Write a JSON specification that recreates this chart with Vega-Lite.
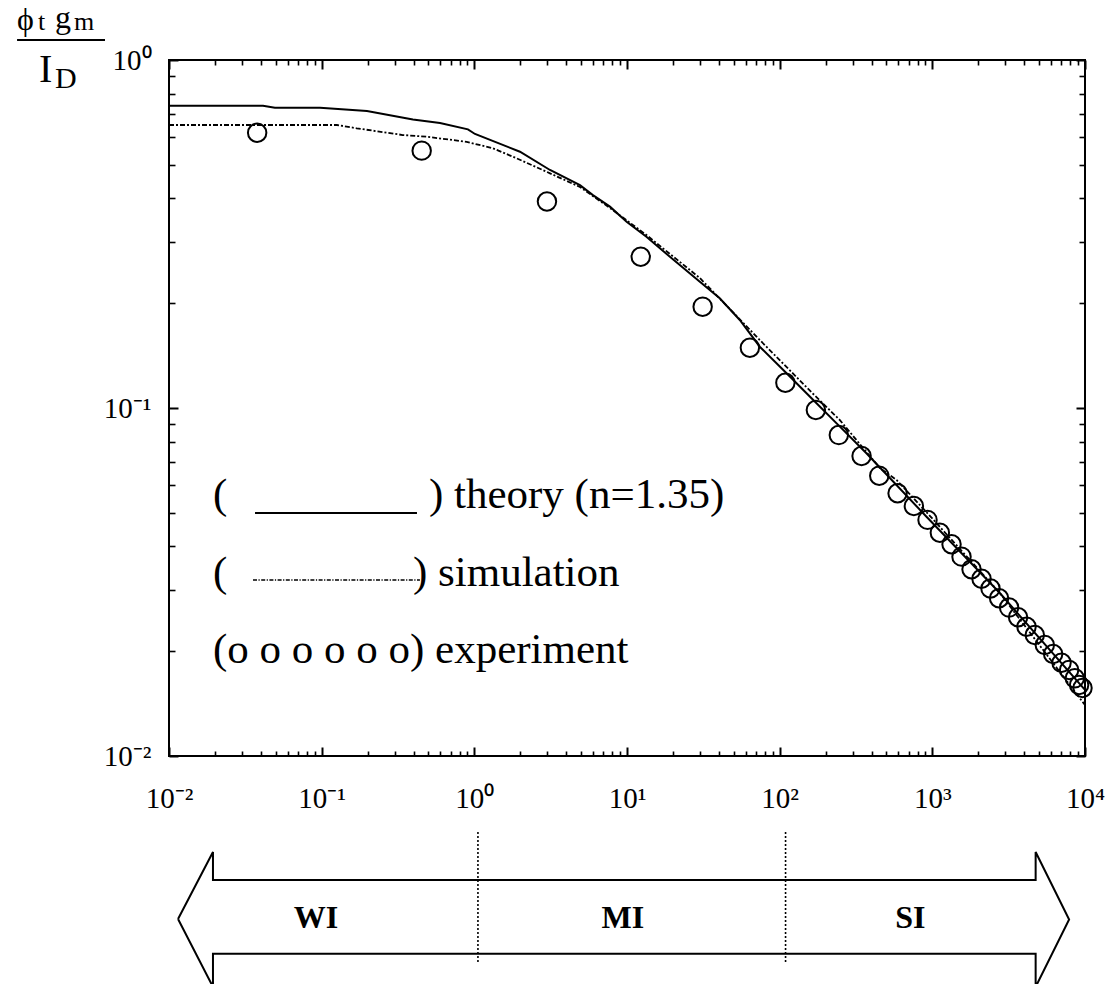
{
  "$schema": "https://vega.github.io/schema/vega-lite/v6.json",
  "width": 916,
  "height": 696,
  "autosize": {"type": "none"},
  "padding": {"left": 169, "top": 60, "right": 30, "bottom": 228},
  "background": "white",
  "config": {
    "view": {"stroke": "black", "strokeWidth": 2},
    "axis": {"grid": false, "domain": false, "tickColor": "black", "labelColor": "black", "labelFont": "Liberation Serif", "labelFontSize": 28, "tickWidth": 2},
    "text": {"font": "Liberation Serif", "color": "black"}
  },
  "datasets": {
    "theory": [
      {"x": 0.01, "y": 0.739}, {"x": 0.0413, "y": 0.739}, {"x": 0.0494, "y": 0.729}, {"x": 0.0975, "y": 0.729},
      {"x": 0.198, "y": 0.714}, {"x": 0.396, "y": 0.675}, {"x": 0.596, "y": 0.659}, {"x": 0.908, "y": 0.632},
      {"x": 1.01, "y": 0.613}, {"x": 1.99, "y": 0.545}, {"x": 3.13, "y": 0.483}, {"x": 4.92, "y": 0.437},
      {"x": 5.98, "y": 0.409}, {"x": 7.73, "y": 0.379}, {"x": 9.94, "y": 0.343}, {"x": 13.4, "y": 0.3106},
      {"x": 19.1, "y": 0.272}, {"x": 30.0, "y": 0.2306}, {"x": 40.5, "y": 0.2066}, {"x": 54.8, "y": 0.179},
      {"x": 74.1, "y": 0.150}, {"x": 111, "y": 0.1258}, {"x": 166, "y": 0.1054}, {"x": 248, "y": 0.0884},
      {"x": 370, "y": 0.0741}, {"x": 916, "y": 0.0487}, {"x": 2767, "y": 0.0294}, {"x": 10000, "y": 0.01548}
    ],
    "simulation": [
      {"x": 0.01, "y": 0.6505}, {"x": 0.126, "y": 0.6505}, {"x": 0.1695, "y": 0.6364}, {"x": 0.34, "y": 0.6087},
      {"x": 0.4876, "y": 0.602}, {"x": 0.891, "y": 0.582}, {"x": 1.324, "y": 0.5576}, {"x": 1.893, "y": 0.5218},
      {"x": 3.13, "y": 0.4725}, {"x": 4.92, "y": 0.4316}, {"x": 7.73, "y": 0.3756}, {"x": 13.4, "y": 0.3142},
      {"x": 30.0, "y": 0.2363}, {"x": 74.1, "y": 0.1568}, {"x": 166, "y": 0.1097}, {"x": 248, "y": 0.0923},
      {"x": 453, "y": 0.0672}, {"x": 583, "y": 0.0621}, {"x": 916, "y": 0.0502}, {"x": 2767, "y": 0.0294},
      {"x": 10000, "y": 0.01401}
    ],
    "experiment": [
      {"x": 0.0378, "y": 0.618}, {"x": 0.452, "y": 0.549}, {"x": 2.99, "y": 0.392}, {"x": 12.3, "y": 0.272},
      {"x": 31.3, "y": 0.1955}, {"x": 63.8, "y": 0.149}, {"x": 109, "y": 0.1182}, {"x": 172.6, "y": 0.0987},
      {"x": 244, "y": 0.0836}, {"x": 344, "y": 0.0728}, {"x": 449, "y": 0.0639}, {"x": 592, "y": 0.0569},
      {"x": 757, "y": 0.0523}, {"x": 930, "y": 0.0477}, {"x": 1120, "y": 0.0438}, {"x": 1336, "y": 0.0406},
      {"x": 1553, "y": 0.0374}, {"x": 1806, "y": 0.0344}, {"x": 2100, "y": 0.0323}, {"x": 2404, "y": 0.0303},
      {"x": 2737, "y": 0.0284}, {"x": 3183, "y": 0.0267}, {"x": 3645, "y": 0.02504}, {"x": 4140, "y": 0.02352},
      {"x": 4690, "y": 0.02227}, {"x": 5455, "y": 0.02084}, {"x": 6185, "y": 0.01964}, {"x": 7020, "y": 0.01854},
      {"x": 7870, "y": 0.01767}, {"x": 8575, "y": 0.01672}, {"x": 9150, "y": 0.016}, {"x": 9630, "y": 0.01568}
    ],
    "theorySample": [{"x": 0.0366, "y": 0.04993}, {"x": 0.421, "y": 0.04993}],
    "simSample": [{"x": 0.0355, "y": 0.03204}, {"x": 0.4403, "y": 0.03204}],
    "legendText": [
      {"x": 0.0194, "y": 0.0516, "label": "("},
      {"x": 0.5043, "y": 0.0516, "label": ") theory (n=1.35)"},
      {"x": 0.0194, "y": 0.0308, "label": "("},
      {"x": 0.3962, "y": 0.0308, "label": ") simulation"},
      {"x": 0.0194, "y": 0.0185, "label": "(o o o o o o) experiment"}
    ],
    "arrow": [
      {"i": 1, "x": 0.01146, "y": 0.003401},
      {"i": 2, "x": 0.01941, "y": 0.005297},
      {"i": 3, "x": 0.01941, "y": 0.004402},
      {"i": 4, "x": 4750, "y": 0.004402},
      {"i": 5, "x": 4750, "y": 0.005297},
      {"i": 6, "x": 7870, "y": 0.00339},
      {"i": 7, "x": 4750, "y": 0.00217},
      {"i": 8, "x": 4750, "y": 0.002703},
      {"i": 9, "x": 0.01941, "y": 0.002703},
      {"i": 10, "x": 0.01941, "y": 0.00217},
      {"i": 11, "x": 0.01146, "y": 0.003401}
    ],
    "dividers": [
      {"x": 1.056, "y": 0.006047, "y2": 0.002542},
      {"x": 109.3, "y": 0.006047, "y2": 0.002542}
    ],
    "regions": [
      {"x": 0.0918, "y": 0.003423, "label": "WI"},
      {"x": 9.40, "y": 0.003423, "label": "MI"},
      {"x": 717.8, "y": 0.003423, "label": "SI"}
    ],
    "titleBig": [
      {"x": 0.001011, "y": 1.2196, "label": "ϕ"},
      {"x": 0.001792, "y": 1.2359, "label": "g"}
    ],
    "titleSmall": [
      {"x": 0.001387, "y": 1.2196, "label": "t"},
      {"x": 0.002387, "y": 1.2196, "label": "m"}
    ],
    "titleI": [{"x": 0.001408, "y": 0.8645, "label": "I"}],
    "titleD": [{"x": 0.001792, "y": 0.8309, "label": "D"}],
    "fracLine": [{"x": 0.001011, "x2": 0.003809, "y": 1.1414}]
  },
  "resolve": {"axis": {"x": "independent", "y": "independent"}},
  "layer": [
    {
      "data": {"name": "theory"},
      "mark": {"type": "line", "stroke": "black", "strokeWidth": 2},
      "encoding": {
        "x": {"field": "x", "type": "quantitative", "scale": {"type": "log", "domain": [0.01, 10000]},
          "axis": {"orient": "bottom", "title": null, "values": [0.01, 0.1, 1, 10, 100, 1000, 10000], "tickSize": -9, "labelPadding": 37, "labelFlush": false,
            "labelFont": "Liberation Serif", "labelFontSize": 29, "labelColor": "black",
            "labelExpr": "datum.value < 0.05 ? '10⁻²' : datum.value < 0.5 ? '10⁻¹' : datum.value < 5 ? '10⁰' : datum.value < 50 ? '10¹' : datum.value < 500 ? '10²' : datum.value < 5000 ? '10³' : '10⁴'"}},
        "y": {"field": "y", "type": "quantitative", "scale": {"type": "log", "domain": [0.01, 1]},
          "axis": {"orient": "left", "title": null, "values": [0.01, 0.1, 1], "tickSize": -9, "labelPadding": 27, "labelFlush": false, "labelBaseline": "middle",
            "labelFont": "Liberation Serif", "labelFontSize": 29, "labelColor": "black",
            "labelExpr": "datum.value < 0.05 ? '10⁻²' : datum.value < 0.5 ? '10⁻¹' : '10⁰'"}}
      }
    },
    {
      "data": {"name": "simulation"},
      "mark": {"type": "line", "stroke": "black", "strokeWidth": 1.8, "strokeDash": [5, 2, 2, 2]},
      "encoding": {
        "x": {"field": "x", "type": "quantitative", "scale": {"type": "log", "domain": [0.01, 10000]},
          "axis": {"orient": "bottom", "title": null, "labels": false, "tickSize": -5, "tickWidth": 1.6,
            "values": [0.02,0.03,0.04,0.05,0.06,0.07,0.08,0.09,0.2,0.3,0.4,0.5,0.6,0.7,0.8,0.9,2,3,4,5,6,7,8,9,20,30,40,50,60,70,80,90,200,300,400,500,600,700,800,900,2000,3000,4000,5000,6000,7000,8000,9000]}},
        "y": {"field": "y", "type": "quantitative", "scale": {"type": "log", "domain": [0.01, 1]},
          "axis": {"orient": "left", "title": null, "labels": false, "tickSize": -6, "tickWidth": 1.6,
            "values": [0.02,0.03,0.04,0.05,0.06,0.07,0.08,0.09,0.2,0.3,0.4,0.5,0.6,0.7,0.8,0.9]}}
      }
    },
    {
      "data": {"name": "experiment"},
      "mark": {"type": "point", "shape": "circle", "filled": false, "stroke": "black", "strokeWidth": 2, "size": 340, "opacity": 1},
      "encoding": {
        "x": {"field": "x", "type": "quantitative", "scale": {"type": "log", "domain": [0.01, 10000]},
          "axis": {"orient": "top", "title": null, "labels": false, "tickSize": -9, "values": [0.01, 0.1, 1, 10, 100, 1000, 10000]}},
        "y": {"field": "y", "type": "quantitative", "scale": {"type": "log", "domain": [0.01, 1]},
          "axis": {"orient": "right", "title": null, "labels": false, "tickSize": -9, "values": [0.01, 0.1, 1]}}
      }
    },
    {
      "data": {"name": "theorySample"},
      "mark": {"type": "line", "stroke": "black", "strokeWidth": 2},
      "encoding": {
        "x": {"field": "x", "type": "quantitative", "scale": {"type": "log", "domain": [0.01, 10000]},
          "axis": {"orient": "top", "title": null, "labels": false, "tickSize": -5, "tickWidth": 1.6,
            "values": [0.02,0.03,0.04,0.05,0.06,0.07,0.08,0.09,0.2,0.3,0.4,0.5,0.6,0.7,0.8,0.9,2,3,4,5,6,7,8,9,20,30,40,50,60,70,80,90,200,300,400,500,600,700,800,900,2000,3000,4000,5000,6000,7000,8000,9000]}},
        "y": {"field": "y", "type": "quantitative", "scale": {"type": "log", "domain": [0.01, 1]},
          "axis": {"orient": "right", "title": null, "labels": false, "tickSize": -6, "tickWidth": 1.6,
            "values": [0.02,0.03,0.04,0.05,0.06,0.07,0.08,0.09,0.2,0.3,0.4,0.5,0.6,0.7,0.8,0.9]}}
      }
    },
    {
      "data": {"name": "simSample"},
      "mark": {"type": "line", "stroke": "black", "strokeWidth": 1.3, "strokeDash": [4, 1.5, 1.2, 1.5]},
      "encoding": {
        "x": {"field": "x", "type": "quantitative", "scale": {"type": "log", "domain": [0.01, 10000]}, "axis": null},
        "y": {"field": "y", "type": "quantitative", "scale": {"type": "log", "domain": [0.01, 1]}, "axis": null}
      }
    },
    {
      "data": {"name": "legendText"},
      "mark": {"type": "text", "align": "left", "baseline": "alphabetic", "fontSize": 43, "font": "Liberation Serif", "color": "black"},
      "encoding": {
        "x": {"field": "x", "type": "quantitative", "scale": {"type": "log", "domain": [0.01, 10000]}, "axis": null},
        "y": {"field": "y", "type": "quantitative", "scale": {"type": "log", "domain": [0.01, 1]}, "axis": null},
        "text": {"field": "label"}
      }
    },
    {
      "data": {"name": "arrow"},
      "mark": {"type": "line", "stroke": "black", "strokeWidth": 2, "strokeJoin": "miter"},
      "encoding": {
        "x": {"field": "x", "type": "quantitative", "scale": {"type": "log", "domain": [0.01, 10000]}, "axis": null},
        "y": {"field": "y", "type": "quantitative", "scale": {"type": "log", "domain": [0.01, 1]}, "axis": null},
        "order": {"field": "i"}
      }
    },
    {
      "data": {"name": "dividers"},
      "mark": {"type": "rule", "stroke": "black", "strokeWidth": 1.6, "strokeDash": [2, 2]},
      "encoding": {
        "x": {"field": "x", "type": "quantitative", "scale": {"type": "log", "domain": [0.01, 10000]}, "axis": null},
        "y": {"field": "y", "type": "quantitative", "scale": {"type": "log", "domain": [0.01, 1]}, "axis": null},
        "y2": {"field": "y2"}
      }
    },
    {
      "data": {"name": "regions"},
      "mark": {"type": "text", "align": "center", "baseline": "middle", "fontSize": 32, "fontWeight": "bold", "font": "Liberation Serif", "color": "black"},
      "encoding": {
        "x": {"field": "x", "type": "quantitative", "scale": {"type": "log", "domain": [0.01, 10000]}, "axis": null},
        "y": {"field": "y", "type": "quantitative", "scale": {"type": "log", "domain": [0.01, 1]}, "axis": null},
        "text": {"field": "label"}
      }
    },
    {
      "data": {"name": "titleBig"},
      "mark": {"type": "text", "align": "left", "baseline": "alphabetic", "fontSize": 32, "font": "Liberation Serif", "color": "black"},
      "encoding": {
        "x": {"field": "x", "type": "quantitative", "scale": {"type": "log", "domain": [0.01, 10000]}, "axis": null},
        "y": {"field": "y", "type": "quantitative", "scale": {"type": "log", "domain": [0.01, 1]}, "axis": null},
        "text": {"field": "label"}
      }
    },
    {
      "data": {"name": "titleSmall"},
      "mark": {"type": "text", "align": "left", "baseline": "alphabetic", "fontSize": 26, "font": "Liberation Serif", "color": "black"},
      "encoding": {
        "x": {"field": "x", "type": "quantitative", "scale": {"type": "log", "domain": [0.01, 10000]}, "axis": null},
        "y": {"field": "y", "type": "quantitative", "scale": {"type": "log", "domain": [0.01, 1]}, "axis": null},
        "text": {"field": "label"}
      }
    },
    {
      "data": {"name": "titleI"},
      "mark": {"type": "text", "align": "left", "baseline": "alphabetic", "fontSize": 40, "font": "Liberation Serif", "color": "black"},
      "encoding": {
        "x": {"field": "x", "type": "quantitative", "scale": {"type": "log", "domain": [0.01, 10000]}, "axis": null},
        "y": {"field": "y", "type": "quantitative", "scale": {"type": "log", "domain": [0.01, 1]}, "axis": null},
        "text": {"field": "label"}
      }
    },
    {
      "data": {"name": "titleD"},
      "mark": {"type": "text", "align": "left", "baseline": "alphabetic", "fontSize": 30, "font": "Liberation Serif", "color": "black"},
      "encoding": {
        "x": {"field": "x", "type": "quantitative", "scale": {"type": "log", "domain": [0.01, 10000]}, "axis": null},
        "y": {"field": "y", "type": "quantitative", "scale": {"type": "log", "domain": [0.01, 1]}, "axis": null},
        "text": {"field": "label"}
      }
    },
    {
      "data": {"name": "fracLine"},
      "mark": {"type": "rule", "stroke": "black", "strokeWidth": 2},
      "encoding": {
        "x": {"field": "x", "type": "quantitative", "scale": {"type": "log", "domain": [0.01, 10000]}, "axis": null},
        "x2": {"field": "x2"},
        "y": {"field": "y", "type": "quantitative", "scale": {"type": "log", "domain": [0.01, 1]}, "axis": null}
      }
    }
  ]
}
